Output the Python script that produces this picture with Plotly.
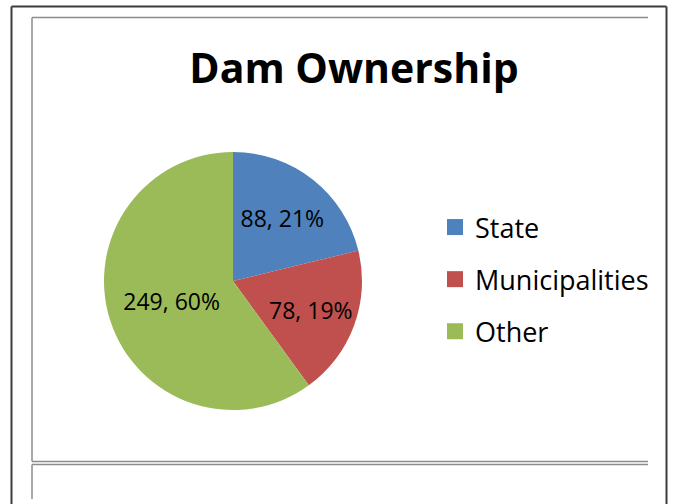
import plotly.graph_objects as go

categories = ["State", "Municipalities", "Other"]
values = [88, 78, 249]
colors = ["#4F81BD", "#C0504D", "#9BBB59"]
title_text = "Dam Ownership"

W, H = 674, 504

def px(x):
    return x / W

def py(y):
    return 1 - y / H

fig = go.Figure()

fig.add_trace(go.Pie(
    labels=categories,
    values=values,
    marker=dict(colors=colors, line=dict(width=0)),
    sort=False,
    direction="clockwise",
    rotation=0,
    texttemplate="%{value}, %{percent:.0%}",
    textposition="inside",
    insidetextorientation="horizontal",
    textfont=dict(family="Open Sans", size=23, color="black"),
    showlegend=False,
    hoverinfo="label+value+percent",
    domain=dict(x=[px(104), px(362)], y=[py(410), py(152)]),
))

for cat, col in zip(categories, colors):
    fig.add_trace(go.Scatter(
        x=[None], y=[None], mode="markers", name=cat,
        marker=dict(symbol="square", size=16, color=col),
        legendgroup=cat, showlegend=True,
    ))

shapes = []
dark = "#3c3c3c"
gray = "#8c8c8c"

def seg(x0, y0, x1, y1, color, width):
    return dict(type="line", xref="x", yref="y", x0=x0, y0=y0, x1=x1, y1=y1,
                line=dict(color=color, width=width))

# outer dark frame
shapes.append(seg(11.5, 6.5, 11.5, 510, dark, 2))
shapes.append(seg(11.5, 6.5, 666.5, 6.5, dark, 2))
shapes.append(seg(666.5, 6.5, 666.5, 510, dark, 2))
# inner chart box
shapes.append(seg(32, 17.5, 648, 17.5, gray, 1.5))
shapes.append(seg(32, 17.5, 32, 461.5, gray, 1.5))
shapes.append(seg(32, 461.5, 648, 461.5, gray, 1.5))
# next box
shapes.append(seg(32, 464.5, 648, 464.5, gray, 1.5))
shapes.append(seg(32, 464.5, 32, 499, gray, 1.5))

fig.update_layout(
    width=W, height=H,
    margin=dict(l=0, r=0, t=0, b=0, autoexpand=False),
    paper_bgcolor="white",
    plot_bgcolor="white",
    title=dict(
        text="<b>" + title_text + "</b>",
        x=px(354), xanchor="center",
        y=py(54), yanchor="top", yref="container",
        font=dict(family="Open Sans", size=41, color="black"),
    ),
    legend=dict(
        x=px(435), xanchor="left",
        y=py(203), yanchor="top",
        font=dict(family="Open Sans", size=27, color="black"),
        tracegroupgap=14,
        bgcolor="rgba(0,0,0,0)",
    ),
    xaxis=dict(visible=False, range=[0, W], domain=[0, 1], fixedrange=True),
    yaxis=dict(visible=False, range=[H, 0], domain=[0, 1], fixedrange=True),
    shapes=shapes,
)

fig.write_html("out.html", post_script="document.body.style.margin='0';",
               config={"displayModeBar": False})
